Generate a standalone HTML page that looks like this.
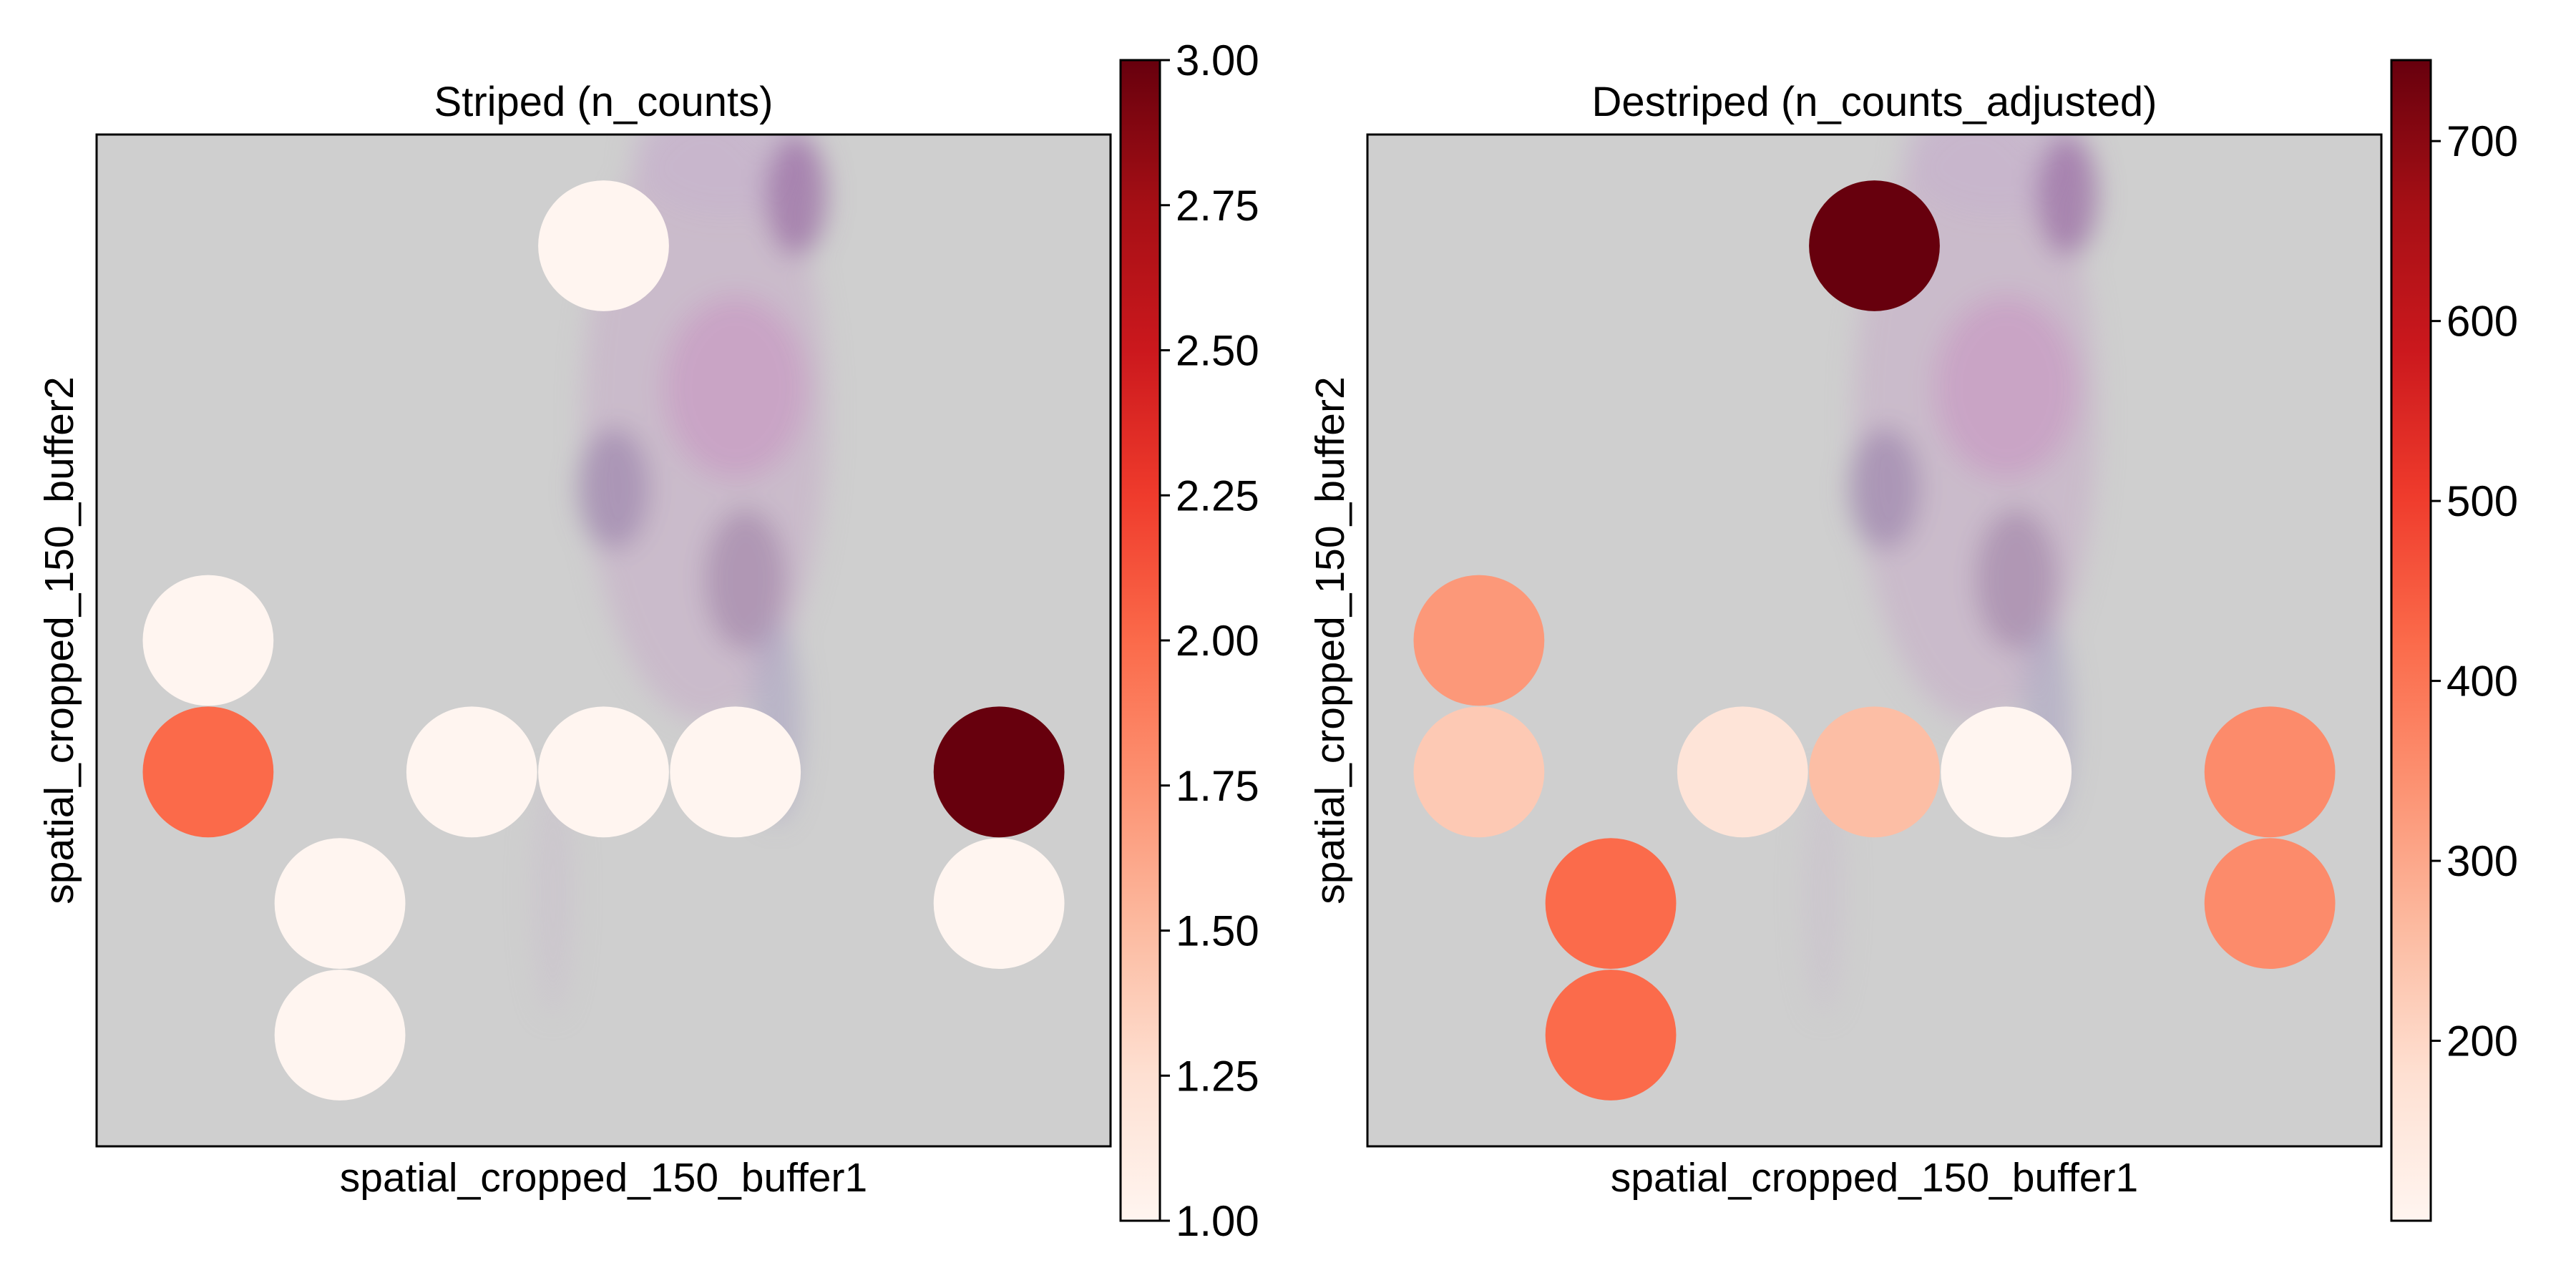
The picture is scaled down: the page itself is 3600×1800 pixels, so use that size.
<!DOCTYPE html>
<html><head><meta charset="utf-8">
<style>
html,body{margin:0;padding:0;background:#fff;}
svg{display:block;font-family:"Liberation Sans",Arial,sans-serif;}
</style></head>
<body>
<svg id="fig" width="3600" height="1800" viewBox="0 0 3600 1800" xmlns="http://www.w3.org/2000/svg">
<defs>
<filter id="blur" x="-50%" y="-50%" width="200%" height="200%"><feGaussianBlur stdDeviation="18"/></filter>
<linearGradient id="redsGrad" x1="0" y1="1" x2="0" y2="0">
<stop offset="0" stop-color="#fff5f0"/><stop offset="0.125" stop-color="#fee0d2"/><stop offset="0.25" stop-color="#fcbba1"/><stop offset="0.375" stop-color="#fc9272"/><stop offset="0.5" stop-color="#fb6a4a"/><stop offset="0.625" stop-color="#ef3b2c"/><stop offset="0.75" stop-color="#cb181d"/><stop offset="0.875" stop-color="#a50f15"/><stop offset="1" stop-color="#67000d"/>
</linearGradient>
</defs>
</svg>
<script>
// ---- data ----
const spotCols = [3, 0, 0, 1, 1, 2, 3, 4, 6, 6];
const spotRows = [0, 3, 4, 5, 6, 4, 4, 4, 4, 5];
const stripedValues = [1, 1, 2, 1, 1, 1, 1, 1, 3, 1];
const destripedValues = [745, 330, 230, 420, 420, 165, 255, 100, 355, 355];
const stripedTicks = [1.00, 1.25, 1.50, 1.75, 2.00, 2.25, 2.50, 2.75, 3.00];
const stripedTickLabels = ["1.00","1.25","1.50","1.75","2.00","2.25","2.50","2.75","3.00"];
const destripedTicks = [200, 300, 400, 500, 600, 700];
const destripedTickLabels = ["200","300","400","500","600","700"];
const stripedRange = [1, 3];
const destripedRange = [100, 745];

const NS = "http://www.w3.org/2000/svg";
const svg = document.getElementById('fig');
const stops = [[255,245,240],[254,224,210],[252,187,161],[252,146,114],[251,106,74],[239,59,44],[203,24,29],[165,15,21],[103,0,13]];
function reds(t){
  t = Math.max(0, Math.min(1, t));
  const p = t * 8, i = Math.min(7, Math.floor(p)), f = p - i;
  const a = stops[i], b = stops[i+1];
  return 'rgb(' + a.map((v,k)=>Math.round(v + (b[k]-v)*f)).join(',') + ')';
}
function el(tag, attrs, parent){
  const e = document.createElementNS(NS, tag);
  for (const k in attrs) e.setAttribute(k, attrs[k]);
  (parent || svg).appendChild(e);
  return e;
}

function panel(ox, title, values, range, ticks, tickLabels, key){
  const AX = ox, AY = 188, AW = 1417, AH = 1414;
  const xs = c => AX + AW * (0.11 + 0.13 * c);
  const ys = r => AY + AH * (0.11 + 0.13 * r);
  const g = el('g', {});
  
  
  const clipId = 'clip-' + key;
  const cp = el('clipPath', {id: clipId}, g);
  el('rect', {x: AX, y: AY, width: AW, height: AH}, cp);
  const bg = el('g', {'clip-path': 'url(#' + clipId + ')'}, g);
  
  
  el('rect', {x: AX, y: AY, width: AW, height: AH, fill: '#cfcfcf'}, bg);
  const blobs = el('g', {filter: 'url(#blur)'}, bg);
  const B = [
    [0.60, 0.28, 0.12, 0.30, '#c8b2c9', 0.7],
    [0.62, 0.02, 0.09, 0.06, '#c6b4cc', 0.7],
    [0.69, 0.06, 0.03, 0.06, '#9f74a8', 0.8],
    [0.63, 0.25, 0.07, 0.09, '#c79ac2', 0.7],
    [0.51, 0.35, 0.035, 0.06, '#9c86ad', 0.7],
    [0.64, 0.44, 0.04, 0.07, '#a488aa', 0.7],
    [0.67, 0.58, 0.025, 0.10, '#aaa3c2', 0.6],
    [0.45, 0.75, 0.02, 0.12, '#c9c2cc', 0.6]
  ];
  B.forEach(b => el('ellipse', {cx: AX + AW*b[0], cy: AY + AH*b[1], rx: AW*b[2], ry: AH*b[3], fill: b[4], opacity: b[5]}, blobs));
  const r = AW * 0.0645;
  values.forEach((v, i) => {
    const c = el('circle', {cx: xs(spotCols[i]), cy: ys(spotRows[i]), r: r, fill: reds((v - range[0]) / (range[1] - range[0]))}, g);
    
    
  });
  const fr = el('rect', {x: AX, y: AY, width: AW, height: AH, fill: 'none', stroke: '#000', 'stroke-width': 3}, g);
  
  
  const t = el('text', {x: AX + AW/2, y: 162, 'font-size': 58, 'text-anchor': 'middle'}, g);
  t.textContent = title;
  
  
  const xl = el('text', {x: AX + AW/2, y: 1665, 'font-size': 57, 'text-anchor': 'middle'}, g);
  xl.textContent = 'spatial_cropped_150_buffer1';
  
  
  const yl = el('text', {x: 0, y: 0, 'font-size': 57, 'text-anchor': 'middle', transform: 'translate(' + (AX - 33) + ',' + (AY + AH/2) + ') rotate(-90)'}, g);
  yl.textContent = 'spatial_cropped_150_buffer2';
  
  
  const CX = AX + 1431, CW = 55, CT = 84, CB = 1706;
  const cb = el('g', {}, g);
  
  
  el('rect', {x: CX, y: CT, width: CW, height: CB - CT, fill: 'url(#redsGrad)', stroke: '#000', 'stroke-width': 3}, cb);
  const cy = v => CB - (v - range[0]) / (range[1] - range[0]) * (CB - CT);
  ticks.forEach((v, i) => {
    const y = cy(v);
    const tk = el('line', {x1: CX + CW, x2: CX + CW + 14, y1: y, y2: y, stroke: '#000', 'stroke-width': 3}, cb);
    
    
    const tl = el('text', {x: CX + CW + 22, y: y + 21, 'font-size': 60}, cb);
    tl.textContent = tickLabels[i];
    
    
  });
}
panel(135, 'Striped (n_counts)', stripedValues, stripedRange, stripedTicks, stripedTickLabels, 'striped');
panel(1911, 'Destriped (n_counts_adjusted)', destripedValues, destripedRange, destripedTicks, destripedTickLabels, 'destriped');
</script>
</body></html>
